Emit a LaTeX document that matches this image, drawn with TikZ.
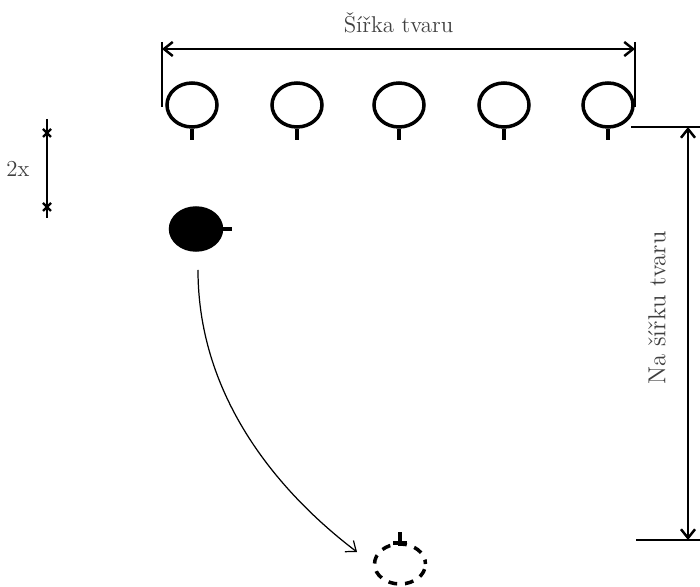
\documentclass[tikz,border=0pt]{standalone}
\usetikzlibrary{arrows.meta,shapes.geometric,positioning}

\begin{document}
\begin{tikzpicture}[x=0.02cm,y=-0.02cm,>={Straight Barb[length=5pt,width=8pt]},
	bulb/.style={ellipse,draw,inner sep=0pt,line width=2pt,minimum width=1.0cm,minimum height=0.88cm},
	stem/.style={line width=2.2pt},
	dim/.style={line width=1.4pt},
	lbl/.style={text=black!75,font=\fontsize{13}{15}\selectfont}
	]
	\useasboundingbox (0,0) rectangle (700,587);

	% row of shapes
	\node[bulb] (b1) at (192,105) {};
	\node[bulb] (b2) at (297,105) {};
	\node[bulb] (b3) at (399,105) {};
	\node[bulb] (b4) at (504,105) {};
	\node[bulb] (b5) at (608,105) {};
	\draw[stem] (b1.south) -- ++(0,11);
	\draw[stem] (b2.south) -- ++(0,11);
	\draw[stem] (b3.south) -- ++(0,11);
	\draw[stem] (b4.south) -- ++(0,11);
	\draw[stem] (b5.south) -- ++(0,11);

	% width
	\coordinate (wl) at (162,49);
	\coordinate (wr) at (635,49);
	\draw[dim] (162,42) -- (162,107);
	\draw[dim] (635,42) -- (635,107);
	\draw[dim,<->] (wl) -- node[lbl,above=5pt]{Šířka tvaru} (wr);

	% height
	\coordinate (ht) at (688,127);
	\coordinate (hb) at (688,540);
	\draw[dim] (631,127) -- (700,127);
	\draw[dim] (636,540) -- (700,540);
	\draw[dim,<->] (ht) -- (hb);
	\node[lbl,rotate=90,font=\fontsize{14}{16}\selectfont] (hl) at (657,308) {Na šířku tvaru};

	% spacing 2x
	\coordinate (st) at (47,119);
	\coordinate (sb) at (47,218);
	\draw[dim] (st) -- node[lbl,left=6pt]{2x} (sb);
	\draw[line width=1.3pt] (43,129) -- (51,137) (43,137) -- (51,129);
	\draw[line width=1.3pt] (43,203) -- (51,211) (43,211) -- (51,203);

	% moving shape
	\node[bulb,fill=black,minimum width=1.02cm,minimum height=0.84cm] (bf) at (196,229) {};
	\draw[stem] (bf.east) -- ++(9,0);

	\node[bulb,minimum width=1.02cm,minimum height=0.8cm,dash pattern=on 5pt off 4.5pt,dash phase=2.5pt] (bd) at (400,564) {};
	\draw[stem] (bd.north) -- ++(0,-10);
	\draw[stem] (393,543) -- (407,543);

	\coordinate (cs) at (198,270);
	\coordinate (ce) at (357,552);
	\draw[->,line width=0.7pt] (cs) .. controls (198,400) and (282,495) .. (ce);

\end{tikzpicture}
\end{document}
